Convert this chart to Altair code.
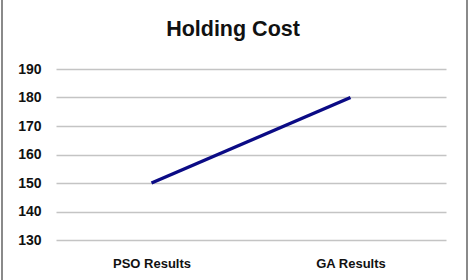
import altair as alt
import pandas as pd

categories = ["PSO Results", "GA Results"]
values = [150, 180]
y_ticks = [130, 140, 150, 160, 170, 180, 190]
title_text = "Holding Cost"

df = pd.DataFrame({"cat": categories, "val": values})

FONT = "Liberation Sans"

line = alt.Chart(df).mark_line(color="#0b0b85", strokeWidth=3.5).encode(
    x=alt.X("cat:N", sort=categories, title=None,
            scale=alt.Scale(type="point", padding=0.48),
            axis=alt.Axis(labelAngle=0, domain=False, ticks=False, grid=False,
                          labelPadding=17, labelFont=FONT, labelFontSize=13,
                          labelFontWeight="bold", labelColor="#111")),
    y=alt.Y("val:Q", title=None,
            scale=alt.Scale(domain=[130, 190], nice=False, zero=False),
            axis=alt.Axis(values=y_ticks, domain=False, ticks=False, grid=True,
                          gridColor="#c4c4c4", gridWidth=1.6,
                          labelPadding=15, labelFont=FONT, labelFontSize=14,
                          labelFontWeight="bold", labelColor="#111")),
)

title = alt.Chart(pd.DataFrame({"t": [title_text]})).mark_text(
    font=FONT, fontSize=21.5, fontWeight="bold", color="#111", baseline="middle", align="center"
).encode(text="t:N", x=alt.value(177), y=alt.value(-39))

border = alt.Chart(pd.DataFrame({"x": [0]})).mark_rule(color="#8a8a8a", strokeWidth=2).encode(
    x=alt.value(-54), y=alt.value(-80), y2=alt.value(220)
)
border2 = alt.Chart(pd.DataFrame({"x": [0]})).mark_rule(color="#8a8a8a", strokeWidth=2).encode(
    x=alt.value(411), y=alt.value(-80), y2=alt.value(220)
)

chart = alt.layer(line, title, border, border2).properties(
    width=390, height=171,
    background="white",
    autosize=alt.AutoSizeParams(type="none"),
    padding={"left": 56, "top": 69, "right": 25, "bottom": 40},
).configure_view(stroke="transparent", strokeWidth=0)

chart.save("out.html", embed_options={"renderer": "svg", "actions": False})
